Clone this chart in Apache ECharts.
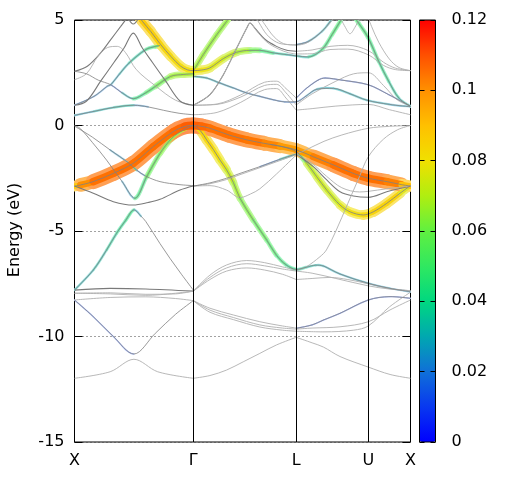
<!DOCTYPE html>
<html><head><meta charset="utf-8">
<script src="https://cdn.jsdelivr.net/npm/echarts@6/dist/echarts.min.js"></script>
<style>html,body{margin:0;padding:0;background:#fff}#c{width:512px;height:480px}</style>
</head><body><div id="c"></div>
<script>
// ---- axes / ticks ----
const kTicks = [0, 1, 1.866, 2.473, 2.828];
const kLabels = ['X', 'Γ', 'L', 'U', 'X'];
const eMin = -15, eMax = 5, eStep = 5;
const wMin = 0, wMax = 0.12, wStep = 0.02;
const weightColors = ['#0000ff','#0838f0','#1070d8','#00a8b0','#00d880','#30e860','#60f040','#b0ee10','#f0e000','#ffc000','#ff9000','#ff5000','#ff0000'];

// ---- dark (degenerate) grey bands [k, E] ----
const darkBands = [
 [[0,0.96],[0.1,1.15],[0.22,2.1],[0.333,3.0],[0.417,3.67],[0.495,4.38],[0.571,3.67],[0.655,3.0],[0.768,2.1],[0.89,1.15],[1,0.96]],
 [[0,-2.87],[0.158,-3.21],[0.327,-3.61],[0.495,-3.77],[0.62,-3.65],[0.72,-3.5],[0.888,-3.06],[1,-2.87]],
 [[0,-7.8],[0.3,-7.72],[0.6,-7.75],[1,-7.85]],
 [[1,0.96],[1.14,1.46],[1.253,2.41],[1.365,3.67],[1.45,4.62],[1.477,4.86],[1.52,4.6],[1.6,4.1],[1.7,3.75],[1.78,3.58],[1.866,3.52]],
 [[1.866,-1.35],[2.01,-1.95],[2.123,-2.58],[2.235,-3.14],[2.347,-3.34],[2.473,-3.4],[2.628,-3.14],[2.828,-2.87]],
 [[0,2.57],[0.108,2.81],[0.22,3.44],[0.305,4.07],[0.389,4.7],[0.431,5.02],[0.47,5.4]],
 [[0.43,5.3],[0.495,4.81],[0.56,5.3]]
];

// ---- thin grey bands, X–Γ ----
const greyXG = [
 [[0,2.17],[0.1,2.45],[0.2,3.3],[0.28,3.7],[0.36,3.75],[0.43,3.45],[0.52,2.65],[0.69,1.84],[0.85,1.2],[1,0.96]],
 [[0,-7.95],[0.3,-7.93],[0.6,-8.0],[0.85,-7.98],[1,-7.85]],
 [[0,-7.95],[0.3,-7.98],[0.6,-8.05],[1,-7.85]],
 [[0,-8.27],[0.3,-8.15],[0.6,-8.12],[0.85,-8.2],[1,-8.3]],
 [[0,-11.98],[0.3,-11.67],[0.5,-11.08],[0.7,-11.67],[1,-11.98]]
];

// ---- thin grey bands, Γ–L ----
const greyGL = [
 [[1,0.96],[1.14,1.46],[1.253,2.41],[1.365,3.67],[1.45,4.62],[1.477,4.86],[1.53,4.5],[1.62,3.95],[1.72,3.62],[1.8,3.45],[1.866,3.39]],
 [[1.5,5.4],[1.55,4.9],[1.62,4.3],[1.7,3.95],[1.78,3.84],[1.866,3.83]],
 [[1.53,5.4],[1.6,4.8],[1.68,4.2],[1.76,3.88],[1.866,3.8]],
 [[1,0.96],[1.2,1.02],[1.4,1.45],[1.6,2.05],[1.7,2.1],[1.78,1.75],[1.866,1.3]],
 [[1,0.96],[1.2,1.0],[1.4,1.35],[1.6,1.9],[1.7,1.95],[1.78,1.55],[1.866,0.97]],
 [[1,0.51],[1.2,0.62],[1.4,1.1],[1.6,1.7],[1.7,1.75],[1.78,1.3],[1.866,0.73]],
 [[1,-2.87],[1.14,-2.76],[1.28,-2.56],[1.393,-2.33],[1.56,-2.0],[1.73,-1.66],[1.866,-1.38]],
 [[1,-2.87],[1.14,-2.85],[1.28,-3.06],[1.393,-3.42],[1.48,-3.25],[1.56,-3.0],[1.7,-2.3],[1.866,-1.4]],
 [[1,-7.85],[1.14,-7.09],[1.28,-6.61],[1.45,-6.4],[1.6,-6.5],[1.75,-6.7],[1.866,-6.85]],
 [[1,-7.85],[1.14,-7.2],[1.28,-6.75],[1.45,-6.55],[1.6,-6.65],[1.75,-6.8],[1.866,-6.9]],
 [[1,-7.85],[1.14,-7.3],[1.28,-6.9],[1.45,-6.75],[1.6,-6.85],[1.75,-7.05],[1.866,-7.3]],
 [[1,-8.3],[1.14,-8.66],[1.337,-8.98],[1.56,-9.3],[1.75,-9.5],[1.866,-9.6]],
 [[1,-8.3],[1.14,-8.75],[1.337,-9.1],[1.56,-9.45],[1.75,-9.6],[1.866,-9.65]],
 [[1,-8.3],[1.14,-8.85],[1.337,-9.2],[1.56,-9.55],[1.75,-9.7],[1.866,-9.75]],
 [[1,-11.98],[1.14,-11.85],[1.28,-11.59],[1.42,-11.2],[1.56,-10.8],[1.7,-10.4],[1.866,-10.04]]
];

// ---- thin grey bands, L–U–X ----
const greyLX = [
 [[1.866,3.52],[2.0,3.58],[2.15,3.75],[2.3,3.8],[2.473,3.55],[2.6,3.0],[2.7,2.72],[2.828,2.6]],
 [[1.866,3.39],[2.0,3.4],[2.15,3.6],[2.3,3.62],[2.473,3.35],[2.6,2.85],[2.7,2.65],[2.828,2.6]],
 [[1.866,3.8],[1.95,3.9],[2.05,4.3],[2.15,4.85],[2.2,5.3]],
 [[2.22,5.3],[2.28,4.65],[2.319,4.35],[2.36,4.65],[2.42,5.3]],
 [[2.45,5.4],[2.5,4.7],[2.56,3.95],[2.65,3.15],[2.73,2.75],[2.828,2.6]],
 [[1.866,0.97],[2.0,1.5],[2.2,2.1],[2.35,2.45],[2.473,2.5],[2.6,1.9],[2.72,1.2],[2.828,0.93]],
 [[1.866,0.73],[2.0,0.8],[2.2,0.92],[2.473,1.0],[2.65,0.75],[2.828,0.51]],
 [[1.866,-1.35],[1.95,-1.15],[2.1,-0.75],[2.25,-0.45],[2.473,-0.13],[2.65,-0.04],[2.828,0]],
 [[1.866,-6.88],[1.95,-6.7],[2.066,-6.22],[2.12,-5.9],[2.2,-5.0],[2.3,-3.7],[2.4,-2.4],[2.473,-1.48],[2.6,-0.65],[2.72,-0.2],[2.828,0]],
 [[1.866,-1.35],[2.0,-1.8],[2.12,-2.4],[2.25,-2.95],[2.4,-3.15],[2.473,-3.12],[2.628,-3.0],[2.828,-2.87]],
 [[1.866,-9.65],[2.0,-9.6],[2.235,-9.54],[2.473,-9.3],[2.656,-8.74],[2.828,-8.27]],
 [[1.866,-9.75],[2.1,-9.78],[2.35,-9.7],[2.473,-9.5],[2.65,-8.6],[2.828,-7.9]],
 [[1.866,-10.04],[2.0,-10.3],[2.095,-10.5],[2.235,-10.95],[2.473,-11.45],[2.656,-11.8],[2.828,-11.98]],
 [[1.866,-6.9],[2.0,-7.0],[2.2,-7.25],[2.473,-7.6],[2.65,-7.75],[2.828,-7.83]],
 [[1.866,-7.3],[2.0,-7.25],[2.15,-7.2],[2.3,-7.3],[2.473,-7.5],[2.65,-7.72],[2.828,-7.83]]
];

// ---- weighted (fat) bands [k, E, weight] ----
const fatOrange = [[0,-2.87,0.08],[0.05,-2.82,0.095],[0.158,-2.66,0.105],[0.327,-2.27,0.105],[0.495,-1.79,0.105],[0.663,-1.0,0.105],[0.832,-0.29,0.105],[0.93,-0.04,0.108],[1.0,0.0,0.108],[1.07,-0.04,0.108],[1.14,-0.13,0.105],[1.3,-0.45,0.105],[1.45,-0.68,0.105],[1.6,-0.85,0.103],[1.73,-0.98,0.1],[1.866,-1.15,0.095],[2.01,-1.48,0.1],[2.18,-1.87,0.105],[2.347,-2.27,0.105],[2.473,-2.5,0.105],[2.63,-2.66,0.105],[2.75,-2.8,0.1],[2.828,-2.87,0.08]];
const fatYellowUp = [[0.52,5.35,0.088],[0.571,4.94,0.088],[0.641,4.46,0.087],[0.726,3.83,0.085],[0.81,3.28,0.083],[0.894,2.81,0.082],[0.95,2.64,0.082],[1.0,2.6,0.08],[1.07,2.63,0.08],[1.14,2.73,0.078],[1.253,3.17,0.075],[1.365,3.47,0.07],[1.477,3.56,0.065],[1.56,3.56,0.055],[1.673,3.44,0.04],[1.786,3.36,0.032],[1.866,3.3,0.03],[1.97,3.25,0.035],[2.083,3.6,0.045],[2.167,4.3,0.05],[2.237,4.94,0.05],[2.28,5.35,0.05]];
const fatG1 = [[1.0,2.57,0.068],[1.084,3.36,0.066],[1.197,4.3,0.065],[1.281,4.94,0.065],[1.32,5.3,0.065]];
const fatP1 = [[0,0.48,0.025],[0.164,0.67,0.03],[0.333,0.86,0.033],[0.5,0.96,0.035],[0.62,0.88,0.01],[0.75,0.72,0],[0.88,0.58,0],[1.0,0.51,0]];
const fatP2 = [[0,0.96,0.02],[0.164,1.38,0.02],[0.276,1.86,0.022],[0.305,1.93,0.025],[0.38,2.45,0.03],[0.459,2.96,0.032],[0.6,3.6,0.04],[0.683,3.75,0.05],[0.72,3.8,0.06]];
const fatP3 = [[0,2.57,0],[0.1,2.45,0],[0.2,2.15,0],[0.305,1.93,0.01],[0.4,1.55,0.02],[0.495,1.27,0.04],[0.6,1.55,0.05],[0.683,1.86,0.055],[0.81,2.33,0.065],[0.92,2.42,0.068],[1.0,2.45,0.068]];
const fatC1 = [[1.0,2.33,0.032],[1.113,2.25,0.03],[1.225,2.01,0.028],[1.337,1.78,0.025],[1.45,1.54,0.022],[1.56,1.38,0.02],[1.673,1.22,0.018],[1.77,1.12,0.018],[1.866,1.12,0.018],[1.95,1.4,0.022],[2.04,1.72,0.028],[2.18,1.76,0.03],[2.32,1.5,0.03],[2.46,1.2,0.03],[2.65,1.0,0.028],[2.828,0.89,0.025]];
const fatLUX1 = [[1.866,1.3,0.012],[1.95,1.75,0.012],[2.05,2.15,0.012],[2.11,2.25,0.012],[2.25,2.15,0.011],[2.473,1.93,0.011],[2.645,1.46,0.011],[2.828,0.91,0.011]];
const fatUXgreen = [[2.33,5.35,0.05],[2.39,4.86,0.05],[2.473,4.15,0.048],[2.56,3.04,0.045],[2.645,2.09,0.04],[2.73,1.3,0.035],[2.828,0.91,0.03]];
const fatLUcyan = [[1.866,3.83,0.02],[1.97,3.99,0.025],[2.083,4.46,0.03],[2.153,4.94,0.03],[2.19,5.3,0.03]];
const fatVA = [[0,0,0],[0.046,-0.13,0],[0.15,-0.8,0],[0.27,-1.64,0.005],[0.4,-2.65,0.01],[0.509,-3.45,0.04],[0.607,-2.43,0.055],[0.72,-1.32,0.06],[0.82,-0.6,0.065],[0.916,-0.21,0.068],[1.0,0,0.07]];
const fatVB = [[0,-7.8,0.03],[0.158,-6.85,0.032],[0.27,-5.9,0.035],[0.355,-5.1,0.04],[0.43,-4.5,0.042],[0.5,-4.0,0.045],[0.56,-4.3,0.01],[0.6,-4.55,0],[0.72,-5.6,0],[0.804,-6.3,0],[0.9,-7.05,0],[1.0,-7.8,0]];
const fatGX1 = [[0,-0.03,0],[0.15,-0.55,0],[0.3,-1.16,0.005],[0.45,-1.75,0.045],[0.52,-2.1,0.035],[0.6,-2.4,0.005],[0.72,-2.66,0],[0.88,-2.8,0],[1.0,-2.85,0]];
const fatVL = [[1.0,0,0.082],[1.06,-0.25,0.084],[1.113,-0.69,0.084],[1.17,-1.15,0.082],[1.225,-1.64,0.08],[1.28,-2.1,0.076],[1.337,-2.7,0.07],[1.393,-3.45,0.065],[1.505,-4.48,0.06],[1.618,-5.43,0.055],[1.7,-6.15,0.05],[1.78,-6.6,0.045],[1.866,-6.82,0.04],[1.95,-6.72,0.035],[2.03,-6.62,0.032],[2.095,-6.66,0.03],[2.235,-7.04,0.028],[2.473,-7.48,0.028],[2.656,-7.72,0.025],[2.828,-7.88,0.025]];
const fatYL = [[1.65,-0.9,0.035],[1.76,-1.02,0.045],[1.866,-1.24,0.05],[1.955,-1.79,0.068],[2.039,-2.43,0.075],[2.123,-3.06,0.072],[2.235,-3.77,0.075],[2.319,-4.09,0.08],[2.431,-4.24,0.082],[2.515,-4.09,0.085],[2.628,-3.69,0.085],[2.74,-3.21,0.085],[2.81,-2.92,0.07],[2.828,-2.87,0.065]];
const fatA = [[1.0,-2.87,0],[1.14,-2.72,0],[1.28,-2.5,0],[1.393,-2.27,0],[1.56,-1.95,0.01],[1.73,-1.6,0.025],[1.866,-1.35,0.04]];
const fatDeepV = [[0,-8.27,0.011],[0.158,-9.06,0.011],[0.327,-10.0,0.011],[0.5,-10.83,0.01],[0.68,-9.85,0],[0.85,-8.95,0],[1.0,-8.3,0]];
const fatLuD1 = [[1.866,-9.61,0.011],[2.0,-9.45,0.011],[2.095,-9.22,0.011],[2.235,-8.9,0.011],[2.473,-8.27,0.011],[2.656,-8.11,0.01],[2.828,-8.19,0.01]];

const fatBands = [fatDeepV, fatLuD1, fatLUX1, fatLUcyan, fatC1, fatP1, fatP2, fatP3, fatA, fatGX1, fatVB, fatVA, fatUXgreen, fatG1, fatVL, fatYL, fatYellowUp, fatOrange];

// ---- build chart ----
const chart = echarts.init(document.getElementById('c'));
const FONT = 'DejaVu Sans';

function lineSeries(pts, color, width, z) {
  return {type:'line', xAxisIndex:0, yAxisIndex:0, data: pts.map(p => [p[0], p[1]]),
    showSymbol:false, symbol:'none', smooth:0.33, lineStyle:{color, width}, silent:true, animation:false, z};
}

const segs = [];
fatBands.forEach((band, b) => {
  for (let i = 0; i < band.length - 1; i++) {
    const w = (band[i][2] + band[i+1][2]) / 2;
    if (w >= 0.01) segs.push([band[i][0], band[i][1], band[i+1][0], band[i+1][1], w, b, i]);
  }
});

function makeRender(kind) {
  return function (params, api) {
    const b = api.value(5), i = api.value(6);
    const band = fatBands[b], n = band.length;
    const P = j => { j = Math.max(0, Math.min(n - 1, j)); return api.coord([band[j][0], band[j][1]]); };
    const p0 = P(i - 1), p1 = P(i), p2 = P(i + 1), p3 = P(i + 2);
    const s = 1 / 6;
    const shape = {x1:p1[0], y1:p1[1], x2:p2[0], y2:p2[1],
      cpx1:p1[0] + (p2[0] - p0[0]) * s, cpy1:p1[1] + (p2[1] - p0[1]) * s,
      cpx2:p2[0] - (p3[0] - p1[0]) * s, cpy2:p2[1] - (p3[1] - p1[1]) * s};
    const w = api.value(4);
    const W = 1.2 + 1250 * w * w;
    const c = api.visual('color');
    let stroke, lw;
    if (kind === 'halo') {
      stroke = echarts.color.lerp(Math.min(0.7, 0.2 + 4.5 * w), ['#ffffff', c]);
      lw = W;
    } else {
      stroke = echarts.color.lerp(Math.min(1, 0.35 + 7 * w), ['#ffffff', c]);
      lw = W * 0.5;
    }
    return {type:'bezierCurve', shape, silent:true,
      style:{stroke, fill:'none', lineWidth: lw, lineCap:'round'}};
  };
}

const series = [];
series.push(Object.assign(lineSeries(darkBands[0], '#7a7a7a', 1.1, 6), {
  markLine: {silent:true, symbol:['none','none'], animation:false, z:10, label:{show:false},
    lineStyle:{color:'#000', type:'solid', width:1},
    data: kTicks.slice(1, 4).map(k => ({xAxis:k}))}
}));
darkBands.slice(1).forEach(b => series.push(lineSeries(b, '#7a7a7a', 1.1, 4)));
[].concat(greyXG, greyGL, greyLX).forEach(b => series.push(lineSeries(b, '#b0b0b0', 0.9, 4)));
const haloIdx = series.length;
series.push({type:'custom', coordinateSystem:'cartesian2d', xAxisIndex:0, yAxisIndex:0, data:segs, renderItem:makeRender('halo'), clip:true, z:2, silent:true, animation:false});
const coreIdx = series.length;
series.push({type:'custom', coordinateSystem:'cartesian2d', xAxisIndex:0, yAxisIndex:0, data:segs, renderItem:makeRender('core'), clip:true, z:3, silent:true, animation:false});
fatBands.forEach(b => series.push(lineSeries(b, '#808080', 0.8, 5)));

function kLabel(v) {
  let best = 0;
  kTicks.forEach((k, i) => { if (Math.abs(k - v) < Math.abs(kTicks[best] - v)) best = i; });
  return kLabels[best];
}

chart.setOption({
  backgroundColor:'#fff',
  animation:false,
  textStyle:{fontFamily:FONT},
  grid:[
    {left:74.5, top:20, width:336, height:422, show:true, borderColor:'#000', borderWidth:1, backgroundColor:'transparent'},
    {left:419.5, top:20, width:16, height:422, show:true, borderColor:'#000', borderWidth:1, backgroundColor:'transparent', z:10}
  ],
  xAxis:[
    {gridIndex:0, type:'value', min:kTicks[0], max:kTicks[kTicks.length-1],
     axisLine:{show:false, onZero:false}, axisTick:{show:false}, splitLine:{show:false},
     axisLabel:{customValues:kTicks, formatter:kLabel, margin:11, fontSize:16, color:'#000', fontFamily:FONT}},
    {gridIndex:1, type:'value', min:0, max:1, show:false, axisLine:{onZero:false}}
  ],
  yAxis:[
    {gridIndex:0, type:'value', min:eMin, max:eMax, interval:eStep,
     axisLine:{show:false, onZero:false}, axisTick:{show:true, inside:true, length:8, lineStyle:{color:'#000'}},
     axisLabel:{fontSize:16, color:'#000', margin:10, fontFamily:FONT},
     splitLine:{show:true, lineStyle:{color:'#444', type:[1,3], width:1}}},
    {gridIndex:0, type:'value', position:'right', min:eMin, max:eMax, interval:eStep,
     axisLine:{show:false, onZero:false}, axisTick:{show:true, inside:true, length:8, lineStyle:{color:'#000'}},
     axisLabel:{show:false}, splitLine:{show:false}},
    {gridIndex:1, type:'value', position:'right', min:wMin, max:wMax, interval:wStep, z:10,
     axisLine:{show:false, onZero:false}, axisTick:{show:true, inside:true, length:5, lineStyle:{color:'#000'}},
     axisLabel:{fontSize:16, color:'#000', margin:16, fontFamily:FONT}, splitLine:{show:false}},
    {gridIndex:1, type:'value', position:'left', min:wMin, max:wMax, interval:wStep, z:10,
     axisLine:{show:false, onZero:false}, axisTick:{show:true, inside:true, length:5, lineStyle:{color:'#000'}},
     axisLabel:{show:false}, splitLine:{show:false}}
  ],
  visualMap:{type:'continuous', min:wMin, max:wMax, dimension:4, seriesIndex:[haloIdx, coreIdx],
    inRange:{color:weightColors}, left:419.5, top:20, itemWidth:16, itemHeight:422, padding:0,
    calculable:false, orient:'vertical', text:null, show:true, hoverLink:false},
  graphic:[{type:'text', x:15, y:230, rotation:Math.PI/2, silent:true,
    style:{text:'Energy (eV)', font:'16px "DejaVu Sans"', fill:'#000', textAlign:'center', textVerticalAlign:'middle'}}],
  series
});
</script></body></html>
